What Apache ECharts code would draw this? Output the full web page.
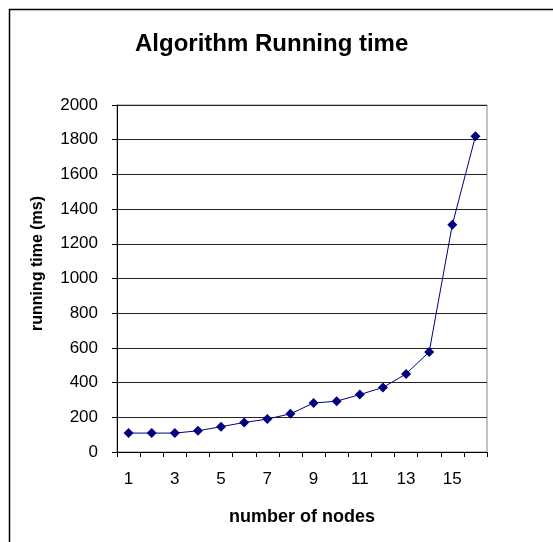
<!DOCTYPE html>
<html>
<head>
<meta charset="utf-8">
<script src="https://cdn.jsdelivr.net/npm/echarts@6/dist/echarts.min.js"></script>
<style>html,body{margin:0;padding:0;background:#fff;}#c{width:553px;height:542px;}</style>
</head>
<body>
<div id="c"></div>
<script>
const categories = ['1','2','3','4','5','6','7','8','9','10','11','12','13','14','15','16'];
const runningTime = [109, 109, 109, 122, 146, 170, 190, 220, 282, 293, 331, 372, 450, 577, 1310, 1820];
const chartTitle = 'Algorithm Running time';
const xName = 'number of nodes';
const yName = 'running time (ms)';

const chart = echarts.init(document.getElementById('c'), null, {renderer: 'canvas'});
const font = '"Liberation Sans", Arial, sans-serif';
chart.setOption({
  animation: false,
  backgroundColor: '#fff',
  title: {
    text: chartTitle, left: 130, top: 27,
    textStyle: {fontFamily: font, fontSize: 24, fontWeight: 'bold', color: '#000'}
  },
  graphic: [{
    type: 'rect', shape: {x: 9.5, y: 9.5, width: 700, height: 700},
    style: {fill: 'none', stroke: '#000', lineWidth: 1.5}, silent: true, z: -1
  }],
  grid: {left: 117, right: 66, top: 105, bottom: 90, show: true, borderColor: '#888', borderWidth: 1},
  xAxis: {
    type: 'category', data: categories, boundaryGap: true,
    name: xName, nameLocation: 'middle', nameGap: 56,
    nameTextStyle: {fontFamily: font, fontSize: 18, fontWeight: 'bold', color: '#000'},
    axisLine: {lineStyle: {color: '#000', width: 1}},
    axisTick: {show: true, length: 5, alignWithLabel: false, interval: 0, lineStyle: {color: '#000'}},
    axisLabel: {interval: 1, fontFamily: font, fontSize: 17, color: '#000', margin: 19},
    splitLine: {show: false}
  },
  yAxis: {
    type: 'value', min: 0, max: 2000, interval: 200,
    name: yName, nameLocation: 'middle', nameGap: 71,
    nameTextStyle: {fontFamily: font, fontSize: 16, fontWeight: 'bold', color: '#000', padding: [0, 0, 0, 30]},
    axisLine: {show: true, lineStyle: {color: '#000', width: 1}},
    axisTick: {show: true, length: 5, lineStyle: {color: '#000'}},
    axisLabel: {fontFamily: font, fontSize: 17, color: '#000', margin: 19, formatter: v => String(v)},
    splitLine: {show: true, lineStyle: {color: '#222', width: 1}}
  },
  series: [{
    type: 'line', data: runningTime,
    symbol: 'diamond', symbolSize: 10,
    lineStyle: {color: '#000080', width: 1},
    itemStyle: {color: '#000080'}
  }]
});
</script>
</body>
</html>
